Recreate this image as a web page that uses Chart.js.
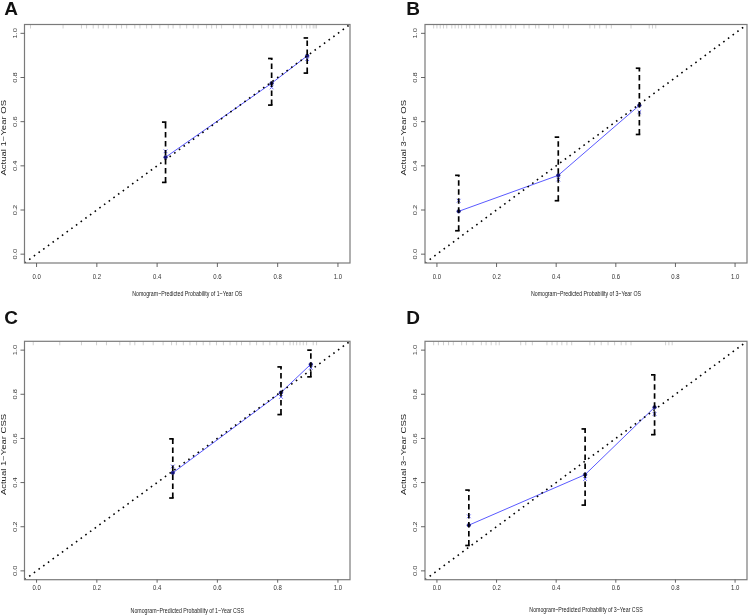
<!DOCTYPE html>
<html><head><meta charset="utf-8">
<script src="https://cdn.jsdelivr.net/npm/chart.js@4.4.1/dist/chart.umd.min.js"></script>
<style>
html,body{margin:0;padding:0;background:#fff;}
#wrap{position:relative;width:752px;height:616px;background:#fff;overflow:hidden;}
.p{position:absolute;width:376px;height:308px;}
canvas{display:block;}
</style></head><body>
<div id="wrap">
<div class="p" style="left:0;top:0"><canvas id="cA" width="376" height="308"></canvas></div>
<div class="p" style="left:376px;top:0"><canvas id="cB" width="376" height="308"></canvas></div>
<div class="p" style="left:0;top:308px"><canvas id="cC" width="376" height="308"></canvas></div>
<div class="p" style="left:376px;top:308px"><canvas id="cD" width="376" height="308"></canvas></div>
</div>
<script>
// ---------- data ----------
const tickValues = [0, 0.2, 0.4, 0.6, 0.8, 1.0];
const tickLabels = ["0.0", "0.2", "0.4", "0.6", "0.8", "1.0"];
const panelLetters = ["A", "B", "C", "D"];
const xTitles = ["Nomogram\u2212Predicted Probability of 1\u2212Year OS",
                 "Nomogram\u2212Predicted Probability of 3\u2212Year OS",
                 "Nomogram\u2212Predicted Probability of 1\u2212Year CSS",
                 "Nomogram\u2212Predicted Probability of 3\u2212Year CSS"];
const yTitles = ["Actual 1\u2212Year OS", "Actual 3\u2212Year OS", "Actual 1\u2212Year CSS", "Actual 3\u2212Year CSS"];

// Panel A: 1-year OS
const predA = [0.428, 0.780, 0.898];
const obsA  = [0.439, 0.774, 0.898];
const corrA = [0.466, 0.755, 0.883];
const loA   = [0.325, 0.675, 0.820];
const hiA   = [0.598, 0.886, 0.979];
const rugA  = [-0.02,0.088,0.149,0.166,0.188,0.205,0.221,0.238,0.265,0.282,0.299,0.326,0.343,0.365,0.382,0.409,0.437,0.453,0.476,0.498,0.52,0.536,0.564,0.581,0.597,0.614,0.653,0.675,0.697,0.719,0.747,0.769,0.785,0.808,0.83,0.846,0.863,0.88,0.896,0.907,0.918,0.924,0.929];

// Panel B: 3-year OS
const predB = [0.073, 0.407, 0.679];
const obsB  = [0.194, 0.357, 0.674];
const corrB = [0.242, 0.338, 0.644];
const loB   = [0.106, 0.242, 0.542];
const hiB   = [0.357, 0.530, 0.842];
const rugB  = [-0.011,0.0,0.011,0.022,0.033,0.05,0.061,0.072,0.083,0.099,0.11,0.127,0.143,0.165,0.182,0.198,0.215,0.231,0.248,0.264,0.292,0.309,0.331,0.342,0.375,0.391,0.424,0.441,0.513,0.529,0.546,0.568,0.585,0.651,0.712,0.723,0.734];

// Panel C: 1-year CSS
const predC = [0.452, 0.811, 0.910];
const obsC  = [0.444, 0.808, 0.936];
const corrC = [0.473, 0.788, 0.920];
const loC   = [0.330, 0.708, 0.879];
const hiC   = [0.598, 0.924, 1.000];
const rugC  = [-0.011,0.077,0.149,0.199,0.232,0.276,0.31,0.326,0.354,0.387,0.42,0.448,0.464,0.487,0.509,0.531,0.553,0.575,0.597,0.62,0.642,0.664,0.68,0.708,0.73,0.752,0.774,0.797,0.819,0.841,0.852,0.863,0.874,0.885,0.896,0.918,0.929];

// Panel D: 3-year CSS
const predD = [0.107, 0.497, 0.730];
const obsD  = [0.207, 0.436, 0.741];
const corrD = [0.247, 0.416, 0.711];
const loD   = [0.115, 0.298, 0.617];
const hiD   = [0.366, 0.643, 0.888];
const rugD  = [-0.011,0.005,0.022,0.039,0.055,0.083,0.099,0.121,0.149,0.165,0.182,0.198,0.209,0.281,0.298,0.32,0.369,0.386,0.403,0.419,0.436,0.452,0.513,0.529,0.551,0.574,0.596,0.618,0.634,0.651,0.767,0.778,0.789];

const axisMin = -0.04, axisMax = 1.04;
const rugLo = 1.022, rugHi = 1.045;

// ---------- layout / style ----------
const layouts = [
  {id:"cA", pad:{left:24.5, right:26, top:24.5, bottom:45}, tickLen:4, yTickX:15, yTitleX:4, xTickY:277, xTitleY:294, letter:[11,10]},
  {id:"cB", pad:{left:49, right:3.7, top:24.5, bottom:45}, tickLen:4, yTickX:39, yTitleX:28, xTickY:277, xTitleY:294, letter:[37,10]},
  {id:"cC", pad:{left:24.5, right:26, top:33.3, bottom:36.3}, tickLen:3, yTickX:15, yTitleX:4, xTickY:280, xTitleY:302.5, letter:[11,11]},
  {id:"cD", pad:{left:49, right:3.7, top:33.3, bottom:36.3}, tickLen:3, yTickX:39, yTitleX:28, xTickY:280, xTitleY:302, letter:[37,11]}
];
const panels = [
  {pred:predA, obs:obsA, corr:corrA, lo:loA, hi:hiA, rug:rugA},
  {pred:predB, obs:obsB, corr:corrB, lo:loB, hi:hiB, rug:rugB},
  {pred:predC, obs:obsC, corr:corrC, lo:loC, hi:hiC, rug:rugC},
  {pred:predD, obs:obsD, corr:corrD, lo:loD, hi:hiD, rug:rugD}
];
const FONT = '"Liberation Sans", Arial, Helvetica, sans-serif';

function txt(ctx, s, x, y, size, sx, rot, color, weight) {
  ctx.save();
  ctx.translate(x, y);
  ctx.scale(sx, 1);
  if (rot) ctx.rotate(-Math.PI / 2);
  ctx.font = (weight || "normal") + " " + size + "px " + FONT;
  ctx.textAlign = "center";
  ctx.textBaseline = "middle";
  ctx.fillStyle = color;
  ctx.fillText(s, 0, 0);
  ctx.restore();
}

function segs(xs, ylo, yhi) {
  const out = [];
  xs.forEach((x, i) => {
    const a = Array.isArray(ylo) ? ylo[i] : ylo;
    const b = Array.isArray(yhi) ? yhi[i] : yhi;
    out.push({x:x, y:a}, {x:x, y:b}, {x:x, y:null});
  });
  return out;
}

function makeChart(k) {
  const L = layouts[k], P = panels[k];
  const decor = {
    id: "decor" + k,
    beforeDraw(chart) {
      const c = chart.ctx;
      c.save(); c.fillStyle = "#fff"; c.fillRect(0, 0, chart.width, chart.height); c.restore();
    },
    afterDatasetsDraw(chart) {
      const c = chart.ctx, xs = chart.scales.x, ys = chart.scales.y, a = chart.chartArea;
      // error bar caps
      c.save();
      c.strokeStyle = "#000"; c.lineWidth = 1.7;
      P.pred.forEach((p, i) => {
        const px = xs.getPixelForValue(p);
        [P.lo[i], P.hi[i]].forEach(v => {
          const py = ys.getPixelForValue(v);
          c.beginPath(); c.moveTo(px - 3.6, py); c.lineTo(px + 0.9, py); c.stroke();
        });
      });
      c.restore();
      // box
      c.save();
      c.strokeStyle = "#7a7a7a"; c.lineWidth = 1.2;
      c.strokeRect(a.left, a.top, a.right - a.left, a.bottom - a.top);
      // ticks
      c.strokeStyle = "#555"; c.lineWidth = 0.9;
      tickValues.forEach(v => {
        const px = xs.getPixelForValue(v);
        c.beginPath(); c.moveTo(px, a.bottom); c.lineTo(px, a.bottom + L.tickLen); c.stroke();
        const py = ys.getPixelForValue(v);
        c.beginPath(); c.moveTo(a.left, py); c.lineTo(a.left - 4, py); c.stroke();
      });
      c.restore();
      tickValues.forEach((v, i) => {
        txt(c, tickLabels[i], xs.getPixelForValue(v), L.xTickY, 7.5, 0.8, false, "#333");
        txt(c, tickLabels[i], L.yTickX, ys.getPixelForValue(v), 7.5, 0.8, true, "#333");
      });
      const cx = (a.left + a.right) / 2, cy = (a.top + a.bottom) / 2;
      txt(c, xTitles[k], cx, L.xTitleY, 7.5, 0.70, false, "#222");
      txt(c, yTitles[k], L.yTitleX, cy - 6, 9.5, 0.72, true, "#222");
      txt(c, panelLetters[k], L.letter[0], L.letter[1], 19, 1, false, "#111", "bold");
    }
  };
  return new Chart(document.getElementById(L.id), {
    type: "scatter",
    data: {
      datasets: [
        {label:"rug", data: segs(P.rug, rugLo, rugHi), showLine:true, borderColor:"#c4c4c4", borderWidth:0.8, pointRadius:0, spanGaps:false},
        {label:"ideal", data:[{x:axisMin, y:axisMin}, {x:axisMax, y:axisMax}], showLine:true, borderColor:"#000", borderWidth:1.6, borderDash:[1.6, 4.2], pointRadius:0},
        {label:"errbar", data: segs(P.pred, P.lo, P.hi), showLine:true, borderColor:"#000", borderWidth:1.7, borderDash:[5.5, 3.5], pointRadius:0, spanGaps:false},
        {label:"observed", data: P.pred.map((p, i) => ({x:p, y:P.obs[i]})), showLine:true, borderColor:"#5a5aff", borderWidth:1, pointRadius:1.8, pointBackgroundColor:"#12127a", pointBorderColor:"#12127a", pointBorderWidth:0.5},
        {label:"corrected", data: P.pred.map((p, i) => ({x:p, y:P.corr[i]})), showLine:false, pointStyle:"crossRot", pointRadius:2.6, borderColor:"#6a6aff", pointBorderColor:"#6a6aff", borderWidth:1}
      ]
    },
    options: {
      responsive:false, animation:false, devicePixelRatio:1,
      layout:{padding:L.pad},
      plugins:{legend:{display:false}, tooltip:{enabled:false}},
      scales:{
        x:{type:"linear", min:axisMin, max:axisMax, display:false},
        y:{type:"linear", min:axisMin, max:axisMax, display:false}
      }
    },
    plugins:[decor]
  });
}
[0,1,2,3].forEach(makeChart);
</script>
</body></html>
